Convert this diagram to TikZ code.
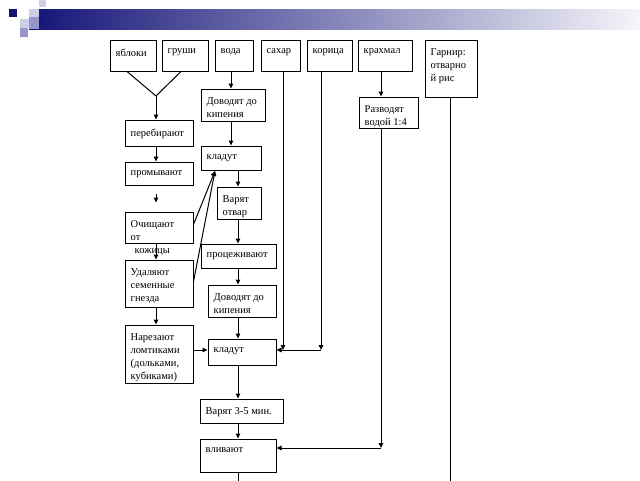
\documentclass[tikz,border=0pt]{standalone}
\usepackage{fontspec}
\setmainfont{Liberation Serif}
\usetikzlibrary{arrows.meta,fit,calc}
\definecolor{navyc}{RGB}{20,20,120}
\definecolor{lavl}{RGB}{205,205,230}
\definecolor{lavm}{RGB}{150,150,205}
\definecolor{barend}{RGB}{245,245,250}
\newcommand{\bx}[6]{%
  \node[boxs, fit={(#2,#3)(#4,#5)}] (#1) {};
  \node[txt] (#1t) at ([xshift=6pt,yshift=-9pt]#1.north west) {#6};}
\begin{document}
\begin{tikzpicture}[x=1pt,y=-1pt,
  boxs/.style={draw=black, line width=1pt, inner sep=0pt},
  txt/.style={anchor=north west, align=left, inner sep=0pt, font=\fontsize{10.5}{13}\selectfont},
  con/.style={line width=1pt},
  arr/.style={con, -{Triangle[length=5pt,width=4.5pt]}}]
\useasboundingbox (0,0) rectangle (640,480);
\fill[white] (0,0) rectangle (640,480);
% header
\shade[left color=navyc, right color=barend] (29,9) rectangle (640,29);
\fill[navyc] (9,9) rectangle (17,17);
\fill[lavl] (29,9) rectangle (39,17);
\fill[lavl] (39,0) rectangle (46,7);
\fill[lavl] (20,19) rectangle (29,28);
\fill[lavm] (29,17) rectangle (39,29);
\fill[lavm] (20,28) rectangle (28,37);
% boxes
\bx{yabl}{110}{40}{156}{71}{яблоки}
\bx{grushi}{162}{40}{208}{71}{груши}
\bx{voda}{215}{40}{253}{71}{вода}
\bx{sahar}{261}{40}{300}{71}{сахар}
\bx{korica}{307}{40}{352}{71}{корица}
\bx{krahmal}{358}{40}{412}{71}{крахмал}
\bx{garnir}{425}{40}{477}{97}{Гарнир:\\отварно\\й рис}
\bx{dov1}{201}{89}{265}{121}{Доводят до\\кипения}
\bx{razv}{359}{97}{418}{128}{Разводят\\водой 1:4}
\bx{pereb}{125}{120}{193}{146}{перебирают}
\bx{klad1}{201}{146}{261}{170}{кладут}
\bx{promyv}{125}{162}{193}{185}{промывают}
\bx{varotv}{217}{187}{261}{219}{Варят\\отвар}
\bx{ochish}{125}{212}{193}{243}{Очищают\\от\\\hspace*{4pt}кожицы}
\bx{prots}{201}{244}{276}{268}{процеживают}
\bx{udal}{125}{260}{193}{307}{Удаляют\\семенные\\гнезда}
\bx{dov2}{208}{285}{276}{317}{Доводят до\\кипения}
\bx{narez}{125}{325}{193}{383}{Нарезают\\ломтиками\\(дольками,\\кубиками)}
\bx{klad2}{208}{339}{276}{365}{кладут}
\bx{var35}{200}{399}{283}{423}{Варят 3-5 мин.}
\bx{vliv}{200}{439}{276}{472}{вливают}
% helper coordinates
\coordinate (colL) at (156,0);
\coordinate (colM) at (238,0);
\coordinate (colS) at (283,0);
\coordinate (colK) at (321,0);
\coordinate (colR) at (381,0);
\coordinate (colG) at (450,0);
\coordinate (yjoin) at (156,96);
\coordinate (ymix) at (0,350);
\coordinate (yvl) at (0,448);
\coordinate (ybot) at (0,481);
\coordinate (tip) at (215,171);
% left branch
\draw[con] ([xshift=-6pt]yabl.south) -- (yjoin);
\draw[con] ([xshift=-4pt]grushi.south) -- (yjoin);
\draw[arr] (yjoin) -- (colL |- pereb.north);
\draw[arr] (colL |- pereb.south) -- (colL |- promyv.north);
\draw[arr, shorten <=8pt, shorten >=9pt] (colL |- promyv.south) -- (colL |- ochish.north);
\draw[arr] (colL |- ochish.south) -- (colL |- udal.north);
\draw[arr] (colL |- udal.south) -- (colL |- narez.north);
\draw[arr] ([yshift=-13pt]ochish.north east) -- (tip);
\draw[arr] ([yshift=-22pt]udal.north east) -- (tip);
\draw[arr] (narez.east |- ymix) -- (klad2.west |- ymix);
% middle column
\draw[arr] ([xshift=-3pt]voda.south) -- ([xshift=-3pt]voda.south |- dov1.north);
\draw[arr] ([xshift=-3pt]voda.south |- dov1.south) -- ([xshift=-3pt]voda.south |- klad1.north);
\draw[arr] (colM |- klad1.south) -- (colM |- varotv.north);
\draw[arr] (colM |- varotv.south) -- (colM |- prots.north);
\draw[arr] (colM |- prots.south) -- (colM |- dov2.north);
\draw[arr] (colM |- dov2.south) -- (colM |- klad2.north);
\draw[arr] (colM |- klad2.south) -- (colM |- var35.north);
\draw[arr] (colM |- var35.south) -- (colM |- vliv.north);
\draw[con] (colM |- vliv.south) -- (colM |- ybot);
% sugar, cinnamon
\draw[arr] (colS |- sahar.south) -- (colS |- ymix);
\draw[arr] (colK |- korica.south) -- (colK |- ymix);
\draw[con] (colK |- ymix) -- (colS |- ymix);
\draw[arr] (colS |- ymix) -- (klad2.east |- ymix);
% starch
\draw[arr] (colR |- krahmal.south) -- (colR |- razv.north);
\draw[arr] (colR |- razv.south) -- (colR |- yvl);
\draw[arr] (colR |- yvl) -- (vliv.east |- yvl);
% garnish
\draw[con] (colG |- garnir.south) -- (colG |- ybot);
\end{tikzpicture}
\end{document}
